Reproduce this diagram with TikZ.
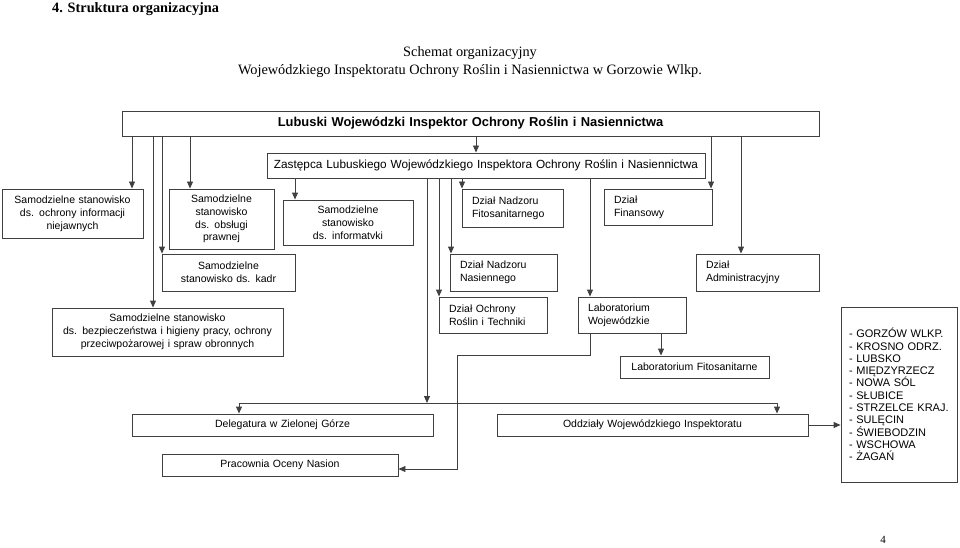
\documentclass[tikz,border=0pt]{standalone}
\usepackage{fontspec}
\setmainfont{Liberation Serif}
\newfontfamily\boxfamily{Liberation Sans}
\usetikzlibrary{arrows.meta}
\definecolor{linec}{gray}{0.25}
\newcommand{\boxfont}{\boxfamily\fontsize{10.5}{12.8}\selectfont}
\tikzset{
  bx/.style={draw=linec, line width=0.9pt, inner sep=0pt, font=\boxfont, align=center, text=black},
  lbx/.style={bx, align=left, inner xsep=10pt},
  arr/.style={-{Triangle[length=7pt,width=6pt]}, draw=linec, line width=0.9pt},
  ln/.style={draw=linec, line width=0.9pt},
  hdr/.style={inner sep=0pt, text=black}
}
\begin{document}
\begin{tikzpicture}[x=1pt,y=-1pt]
\useasboundingbox (0,0) rectangle (960,548);
% header
\node[hdr, anchor=west, font=\fontsize{14.3}{16}\selectfont\bfseries] (title) at (52,9) {4. Struktura organizacyjna};
\node[hdr, font=\fontsize{14.3}{16}\selectfont] (sch1) at (470,53) {Schemat organizacyjny};
\node[hdr, font=\fontsize{14.3}{16}\selectfont] (sch2) at (470,71) {Wojewódzkiego Inspektoratu Ochrony Roślin i Nasiennictwa w Gorzowie Wlkp.};
% boxes
\node[bx, font=\boxfamily\fontsize{12.9}{15}\selectfont\bfseries, minimum width=697, minimum height=25, text width=697pt] (top) at (470.5,123.5) {Lubuski Wojewódzki Inspektor Ochrony Roślin i Nasiennictwa};
\node[bx, font=\boxfamily\fontsize{11.8}{14}\selectfont, minimum width=438, minimum height=25, text width=438pt] (zast) at (486,165.5) {Zastępca Lubuskiego Wojewódzkiego Inspektora Ochrony Roślin i Nasiennictwa};
\node[bx, minimum width=141, minimum height=49, text width=141pt] (niej) at (72.5,213.5) {Samodzielne stanowisko\\ds. ochrony informacji\\niejawnych};
\node[bx, minimum width=105, minimum height=60, text width=105pt] (praw) at (221.5,219) {Samodzielne\\stanowisko\\ds. obsługi\\prawnej};
\node[bx, minimum width=130, minimum height=45, text width=130pt] (inf) at (348,222.5) {Samodzielne\\stanowisko\\ds. informatvki};
\node[lbx, minimum width=101, minimum height=38, text width=81pt] (fito) at (512.5,208) {Dział Nadzoru\\Fitosanitarnego};
\node[lbx, minimum width=108, minimum height=36, text width=88pt] (fin) at (658,207) {Dział\\Finansowy};
\node[bx, minimum width=133, minimum height=37, text width=133pt] (kadr) at (228.5,272.5) {Samodzielne\\stanowisko ds. kadr};
\node[lbx, minimum width=107, minimum height=37, text width=87pt] (nas) at (503.5,272.5) {Dział Nadzoru\\Nasiennego};
\node[lbx, minimum width=123, minimum height=37, text width=103pt] (adm) at (757.5,272.5) {Dział\\Administracyjny};
\node[bx, minimum width=231, minimum height=48, text width=231pt] (bhp) at (167.5,332) {Samodzielne stanowisko\\ds. bezpieczeństwa i higieny pracy, ochrony\\przeciwpożarowej i spraw obronnych};
\node[lbx, minimum width=108, minimum height=36, text width=88pt] (ochr) at (493,315) {Dział Ochrony\\Roślin i Techniki};
\node[lbx, minimum width=108, minimum height=36, text width=88pt] (labw) at (632,315) {Laboratorium\\Wojewódzkie};
\node[bx, minimum width=149, minimum height=22, text width=149pt] (labf) at (694.5,367) {Laboratorium Fitosanitarne};
\node[bx, minimum width=301, minimum height=22, text width=301pt] (deleg) at (282.5,425) {Delegatura w Zielonej Górze};
\node[bx, minimum width=236, minimum height=22, text width=236pt] (prac) at (280,465) {Pracownia Oceny Nasion};
\node[bx, minimum width=311, minimum height=22, text width=311pt] (oddz) at (652.5,425) {Oddziały Wojewódzkiego Inspektoratu};
\node[lbx, font=\boxfamily\fontsize{11}{12.3}\selectfont, inner xsep=8pt, minimum width=116, minimum height=175, text width=100pt] (list) at (899,394.5) {- GORZÓW WLKP.\\- KROSNO ODRZ.\\- LUBSKO\\- MIĘDZYRZECZ\\- NOWA SÓL\\- SŁUBICE\\- STRZELCE KRAJ.\\- SULĘCIN\\- ŚWIEBODZIN\\- WSCHOWA\\- ŻAGAŃ};
\node[hdr, font=\fontsize{11}{13}\selectfont] (pnum) at (883,540) {4};
% connectors from the Inspector
\draw[arr] (top.south -| 132,0) -- (niej.north -| 132,0);
\draw[arr] (top.south -| 153,0) -- (bhp.north -| 153,0);
\draw[arr] (top.south -| 162,0) -- (kadr.north -| 162,0);
\draw[arr] (top.south -| 190,0) -- (praw.north -| 190,0);
\draw[arr] (top.south -| 476,0) -- (zast.north -| 476,0);
\draw[arr] (top.south -| 711,0) -- (fin.north -| 711,0);
\draw[arr] (top.south -| 741,0) -- (adm.north -| 741,0);
% connectors from the Deputy
\coordinate (jL) at (239,403);
\coordinate (jM) at (427,403);
\coordinate (jR) at (777,403);
\draw[arr] (zast.south -| 295,0) -- (inf.north -| 295,0);
\draw[arr] (zast.south -| jM) -- (jM);
\draw[arr] (zast.south -| 439,0) -- (ochr.north -| 439,0);
\draw[arr] (zast.south -| 451,0) -- (nas.north -| 451,0);
\draw[arr] (zast.south -| 462,0) -- (fito.north -| 462,0);
\draw[arr] (zast.south -| 590,0) -- (labw.north -| 590,0);
\draw[ln] (jL) -- (jR);
\draw[arr] (jL) -- (deleg.north -| jL);
\draw[arr] (jR) -- (oddz.north -| jR);
% laboratory connectors
\coordinate (k1) at (590,355);
\coordinate (k2) at (457,355);
\coordinate (k3) at (457,469);
\draw[arr] (labw.south -| k1) -- (k1) -- (k2) -- (k3) -- (prac.east |- k3);
\draw[arr] (labw.south -| 661,0) -- (labf.north -| 661,0);
\draw[arr] (oddz.east) -- (list.west |- oddz.east);
\end{tikzpicture}
\end{document}
